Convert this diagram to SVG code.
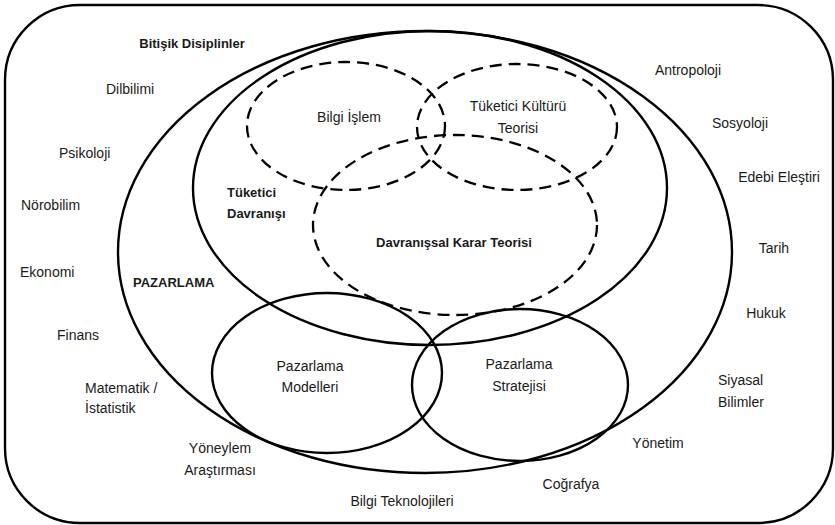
<svg xmlns="http://www.w3.org/2000/svg" width="835" height="525" viewBox="0 0 835 525">
<style>
.s{fill:none;stroke:#000;stroke-width:2.4}
.d{fill:none;stroke:#000;stroke-width:2.3;stroke-dasharray:12 7}
text{font-family:"Liberation Sans",Arial,sans-serif;font-size:14px;fill:#1a1a1a}
.b{font-weight:bold;font-size:13px}
.m{text-anchor:middle}
</style>
<rect width="835" height="525" fill="#fff"/>
<g id="bitisik">
<rect class="s" x="5" y="5" width="828" height="518" rx="75" ry="75"/>
<text class="b m" x="192" y="48">Bitişik Disiplinler</text>
</g>
<g id="pazarlama">
<ellipse class="s" cx="425" cy="252" rx="307" ry="221"/>
<text class="b" x="133" y="287">PAZARLAMA</text>
</g>
<g id="tuketici-davranisi">
<ellipse class="s" cx="430" cy="188" rx="237" ry="157"/>
<text class="b" x="227" y="197">Tüketici</text>
<text class="b" x="227" y="218">Davranışı</text>
</g>
<g id="bilgi-islem">
<ellipse class="d" cx="346" cy="126" rx="99" ry="64"/>
<text class="m" x="349" y="122">Bilgi İşlem</text>
</g>
<g id="tuketici-kulturu">
<ellipse class="d" cx="517" cy="127" rx="100" ry="63"/>
<text class="m" x="518" y="111">Tüketici Kültürü</text>
<text class="m" x="518" y="133">Teorisi</text>
</g>
<g id="davranissal">
<ellipse class="d" cx="455" cy="225" rx="142" ry="90"/>
<text class="b m" x="454" y="247">Davranışsal Karar Teorisi</text>
</g>
<g id="pazarlama-modelleri">
<ellipse class="s" cx="327" cy="373" rx="115" ry="80"/>
<text class="m" x="310" y="371">Pazarlama</text>
<text class="m" x="310" y="392">Modelleri</text>
</g>
<g id="pazarlama-stratejisi">
<ellipse class="s" cx="520" cy="385" rx="108" ry="76"/>
<text class="m" x="519" y="369">Pazarlama</text>
<text class="m" x="519" y="391">Stratejisi</text>
</g>
<g id="disciplines">
<text x="106" y="94">Dilbilimi</text>
<text x="59" y="158">Psikoloji</text>
<text x="21" y="210">Nörobilim</text>
<text x="20" y="277">Ekonomi</text>
<text x="57" y="340">Finans</text>
<text x="85" y="393">Matematik /</text>
<text x="85" y="413">İstatistik</text>
<text class="m" x="220" y="453">Yöneylem</text>
<text class="m" x="220" y="475">Araştırması</text>
<text class="m" x="402" y="506">Bilgi Teknolojileri</text>
<text class="m" x="571" y="489">Coğrafya</text>
<text class="m" x="658" y="448">Yönetim</text>
<text x="718" y="385">Siyasal</text>
<text x="718" y="407">Bilimler</text>
<text class="m" x="766" y="318">Hukuk</text>
<text class="m" x="774" y="253">Tarih</text>
<text class="m" x="779" y="182">Edebi Eleştiri</text>
<text class="m" x="740" y="128">Sosyoloji</text>
<text class="m" x="688" y="75">Antropoloji</text>
</g>
<g id="connectors"></g>
</svg>
